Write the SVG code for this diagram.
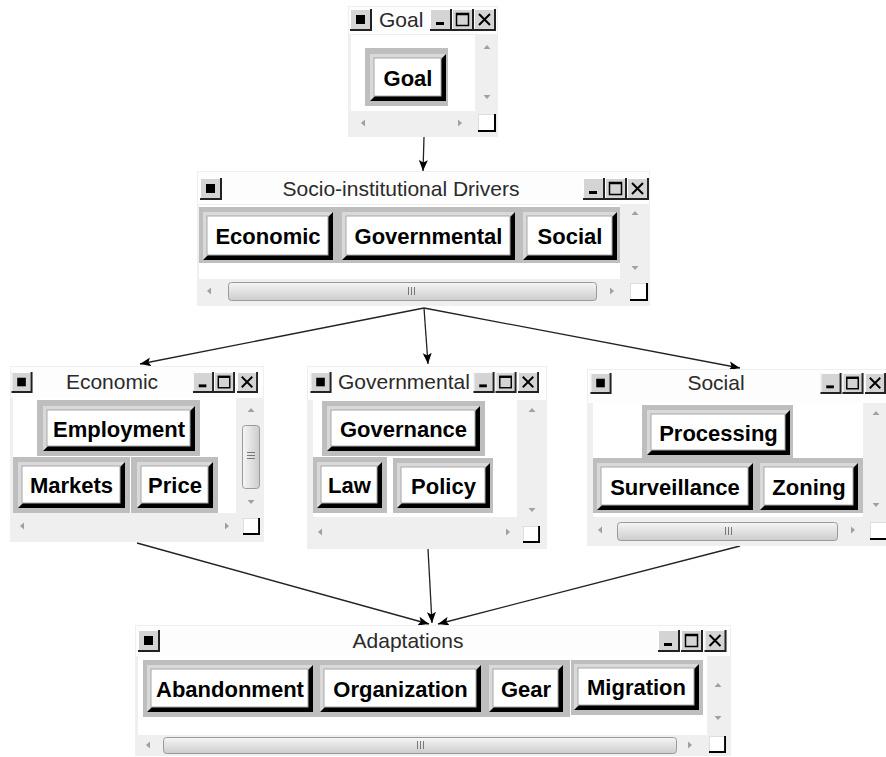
<svg xmlns="http://www.w3.org/2000/svg" xmlns:xlink="http://www.w3.org/1999/xlink" width="886" height="757" viewBox="0 0 886 757">
<style>
.win{fill:#efefef}
.tbar{fill:#fdfdfd}
.view{fill:#fff}
.cell{fill:#bebebe}
.bl{fill:#d9d9d9}
.bd{fill:#000}
.bf{fill:#fff;stroke:#a8a8a8;stroke-width:1}
.bt{font-family:"Liberation Sans",Arial,sans-serif;font-weight:bold;font-size:22px;text-anchor:middle;fill:#000}
.tt{font-family:"Liberation Sans",Arial,sans-serif;font-size:21px;fill:#2a2a2a}
.mid{text-anchor:middle}
.thumbh{fill:url(#tgh);stroke:#9a9a9a}
.thumbv{fill:url(#tgv);stroke:#9a9a9a}
.grip{stroke:#777;stroke-width:1}
.edge{stroke:#222;fill:none;stroke-width:1.3}
</style>
<defs>
<linearGradient id="tgh" x1="0" y1="0" x2="0" y2="1"><stop offset="0" stop-color="#f6f6f6"/><stop offset="1" stop-color="#cccccc"/></linearGradient>
<linearGradient id="tgv" x1="0" y1="0" x2="1" y2="0"><stop offset="0" stop-color="#f6f6f6"/><stop offset="1" stop-color="#cccccc"/></linearGradient>
<symbol id="bsq" viewBox="0 0 22 22"><rect x="0" y="0" width="22" height="22" fill="#d4d4d4"/><path d="M0.5,21 V0.5 H21" stroke="#fff" fill="none"/><path d="M21,0 V21 H0" stroke="#222" stroke-width="2" fill="none"/><rect x="6" y="6" width="9" height="9" fill="#000"/></symbol>
<symbol id="bmin" viewBox="0 0 22 22"><rect x="0" y="0" width="22" height="22" fill="#d4d4d4"/><path d="M0.5,21 V0.5 H21" stroke="#fff" fill="none"/><path d="M21,0 V21 H0" stroke="#222" stroke-width="2" fill="none"/><rect x="6" y="13" width="8" height="3" fill="#000"/></symbol>
<symbol id="bmax" viewBox="0 0 22 22"><rect x="0" y="0" width="22" height="22" fill="#d4d4d4"/><path d="M0.5,21 V0.5 H21" stroke="#fff" fill="none"/><path d="M21,0 V21 H0" stroke="#222" stroke-width="2" fill="none"/><rect x="4.5" y="4.5" width="12" height="12" fill="none" stroke="#000" stroke-width="1.5"/><line x1="4.5" y1="5.5" x2="16.5" y2="5.5" stroke="#000" stroke-width="1.5"/></symbol>
<symbol id="bclose" viewBox="0 0 22 22"><rect x="0" y="0" width="22" height="22" fill="#d4d4d4"/><path d="M0.5,21 V0.5 H21" stroke="#fff" fill="none"/><path d="M21,0 V21 H0" stroke="#222" stroke-width="2" fill="none"/><path d="M5,5 L16,16 M16,5 L5,16" stroke="#000" stroke-width="2"/></symbol>
<symbol id="corner" viewBox="0 0 18 18"><rect x="0.5" y="0.5" width="17" height="17" fill="#fff" stroke="#ddd"/><path d="M0,17 H17 V0" stroke="#000" stroke-width="2" fill="none"/></symbol>
<symbol id="aup" viewBox="0 0 10 10"><polygon points="1.5,7 8.5,7 5,3" fill="#a0a0a0"/></symbol>
<symbol id="adn" viewBox="0 0 10 10"><polygon points="1.5,3 8.5,3 5,7" fill="#a0a0a0"/></symbol>
<symbol id="alt" viewBox="0 0 10 10"><polygon points="7,1.5 7,8.5 3,5" fill="#a0a0a0"/></symbol>
<symbol id="art" viewBox="0 0 10 10"><polygon points="3,1.5 3,8.5 7,5" fill="#a0a0a0"/></symbol>
<marker id="ah" markerUnits="userSpaceOnUse" markerWidth="12" markerHeight="10" refX="11" refY="5" orient="auto"><path d="M11,5 L0,0.5 L2.5,5 L0,9.5 Z" fill="#000"/></marker>
</defs>

<rect x="0" y="0" width="886" height="757" fill="#fff"/>

<g id="connectors">
<line class="edge" x1="424" y1="137" x2="423" y2="171" marker-end="url(#ah)"/>
<line class="edge" x1="424" y1="308" x2="140" y2="364" marker-end="url(#ah)"/>
<line class="edge" x1="424" y1="308" x2="428" y2="364" marker-end="url(#ah)"/>
<line class="edge" x1="424" y1="308" x2="740" y2="368" marker-end="url(#ah)"/>
<line class="edge" x1="137" y1="543" x2="429" y2="624" marker-end="url(#ah)"/>
<line class="edge" x1="428" y1="549" x2="432" y2="623" marker-end="url(#ah)"/>
<line class="edge" x1="740" y1="546" x2="438" y2="624" marker-end="url(#ah)"/>
</g>

<g id="n-goal">
<rect class="win" x="348" y="6" width="150" height="131"/>
<rect class="tbar" x="349" y="7" width="148" height="27"/>
<use href="#bsq" x="350" y="9" width="22" height="22"/>
<text class="tt" x="379" y="27">Goal</text>
<use href="#bmin" x="430" y="9" width="22" height="22"/>
<use href="#bmax" x="452" y="9" width="22" height="22"/>
<use href="#bclose" x="474" y="9" width="22" height="22"/>
<rect class="view" x="351" y="35" width="124" height="76"/>
<use href="#aup" x="482" y="42" width="10" height="10"/>
<use href="#adn" x="482" y="92" width="10" height="10"/>
<use href="#alt" x="358" y="118" width="10" height="10"/>
<use href="#art" x="455" y="118" width="10" height="10"/>
<use href="#corner" x="478" y="114" width="18" height="18"/>
<rect class="cell" x="365" y="48" width="83" height="58"/>
<rect class="bl" x="370" y="54" width="76" height="47"/>
<path class="bd" d="M446,54 v47 h-76 l5,-5 h66 v-37 z"/>
<rect class="bf" x="374" y="58" width="67" height="38"/>
<text class="bt" x="408" y="86">Goal</text>
</g>

<g id="n-socio">
<rect class="win" x="197" y="171" width="453" height="135"/>
<rect class="tbar" x="198" y="172" width="451" height="32"/>
<use href="#bsq" x="200" y="178" width="22" height="22"/>
<text class="tt mid" x="401" y="196">Socio-institutional Drivers</text>
<use href="#bmin" x="583" y="178" width="22" height="22"/>
<use href="#bmax" x="605" y="178" width="22" height="22"/>
<use href="#bclose" x="627" y="178" width="22" height="22"/>
<rect class="view" x="199" y="205" width="421" height="74"/>
<rect class="cell" x="199" y="207" width="421" height="56"/>
<rect class="bl" x="203" y="212" width="130" height="48"/>
<path class="bd" d="M333,212 v48 h-130 l5,-5 h120 v-38 z"/>
<rect class="bf" x="207" y="216" width="121" height="39"/>
<text class="bt" x="268" y="244">Economic</text>
<rect class="bl" x="342" y="212" width="173" height="48"/>
<path class="bd" d="M515,212 v48 h-173 l5,-5 h163 v-38 z"/>
<rect class="bf" x="346" y="216" width="164" height="39"/>
<text class="bt" x="428.5" y="244">Governmental</text>
<rect class="bl" x="523" y="212" width="94" height="48"/>
<path class="bd" d="M617,212 v48 h-94 l5,-5 h84 v-38 z"/>
<rect class="bf" x="527" y="216" width="85" height="39"/>
<text class="bt" x="570" y="244">Social</text>
<use href="#aup" x="630" y="208" width="10" height="10"/>
<use href="#adn" x="630" y="263" width="10" height="10"/>
<use href="#alt" x="204" y="286" width="10" height="10"/>
<rect class="thumbh" x="228.5" y="282.5" width="368" height="18" rx="3"/>
<path class="grip" d="M408.5,287 v8 M411.5,287 v8 M414.5,287 v8"/>
<use href="#art" x="607" y="286" width="10" height="10"/>
<use href="#corner" x="630" y="283" width="18" height="18"/>
</g>

<g id="n-economic">
<rect class="win" x="10" y="366" width="254" height="176"/>
<rect class="tbar" x="11" y="367" width="252" height="31"/>
<use href="#bsq" x="11" y="372" width="22" height="21"/>
<text class="tt mid" x="112" y="389">Economic</text>
<use href="#bmin" x="193" y="372" width="21" height="21"/>
<use href="#bmax" x="214" y="372" width="21" height="21"/>
<use href="#bclose" x="236" y="372" width="23" height="21"/>
<rect class="view" x="13" y="398" width="223" height="115"/>
<rect class="cell" x="37" y="400" width="163" height="56"/>
<rect class="cell" x="13" y="457" width="117" height="56"/>
<rect class="cell" x="131" y="457" width="87" height="56"/>
<rect class="bl" x="43" y="406" width="152" height="45"/>
<path class="bd" d="M195,406 v45 h-152 l5,-5 h142 v-35 z"/>
<rect class="bf" x="47" y="410" width="143" height="36"/>
<text class="bt" x="119" y="436.5">Employment</text>
<rect class="bl" x="18" y="462" width="107" height="46"/>
<path class="bd" d="M125,462 v46 h-107 l5,-5 h97 v-36 z"/>
<rect class="bf" x="22" y="466" width="98" height="37"/>
<text class="bt" x="71.5" y="493">Markets</text>
<rect class="bl" x="137" y="462" width="76" height="46"/>
<path class="bd" d="M213,462 v46 h-76 l5,-5 h66 v-36 z"/>
<rect class="bf" x="141" y="466" width="67" height="37"/>
<text class="bt" x="175" y="493">Price</text>
<use href="#aup" x="246" y="405" width="10" height="10"/>
<rect class="thumbv" x="242.5" y="425.5" width="17" height="63" rx="3"/>
<path class="grip" d="M247,452.5 h8 M247,455.5 h8 M247,458.5 h8"/>
<use href="#adn" x="246" y="497" width="10" height="10"/>
<use href="#alt" x="17" y="521" width="10" height="10"/>
<use href="#art" x="222" y="521" width="10" height="10"/>
<use href="#corner" x="243" y="518" width="17" height="17"/>
</g>

<g id="n-governmental">
<rect class="win" x="307" y="366" width="240" height="183"/>
<rect class="tbar" x="308" y="367" width="238" height="33"/>
<use href="#bsq" x="310" y="372" width="22" height="21"/>
<text class="tt" x="338" y="389">Governmental</text>
<use href="#bmin" x="473" y="372" width="22" height="21"/>
<use href="#bmax" x="495" y="372" width="22" height="21"/>
<use href="#bclose" x="517" y="372" width="23" height="21"/>
<rect class="view" x="313" y="400" width="204" height="117"/>
<rect class="cell" x="322" y="401" width="163" height="55"/>
<rect class="cell" x="313" y="457" width="74" height="56"/>
<rect class="cell" x="393" y="458" width="100" height="55"/>
<rect class="bl" x="327" y="406" width="153" height="45"/>
<path class="bd" d="M480,406 v45 h-153 l5,-5 h143 v-35 z"/>
<rect class="bf" x="331" y="410" width="144" height="36"/>
<text class="bt" x="403.5" y="436.5">Governance</text>
<rect class="bl" x="317" y="462" width="65" height="46"/>
<path class="bd" d="M382,462 v46 h-65 l5,-5 h55 v-36 z"/>
<rect class="bf" x="321" y="466" width="56" height="37"/>
<text class="bt" x="349.5" y="493">Law</text>
<rect class="bl" x="397" y="463" width="93" height="45"/>
<path class="bd" d="M490,463 v45 h-93 l5,-5 h83 v-35 z"/>
<rect class="bf" x="401" y="467" width="84" height="36"/>
<text class="bt" x="443.5" y="493.5">Policy</text>
<use href="#aup" x="527" y="405" width="10" height="10"/>
<use href="#adn" x="527" y="505" width="10" height="10"/>
<use href="#alt" x="315" y="527" width="10" height="10"/>
<use href="#art" x="503" y="527" width="10" height="10"/>
<use href="#corner" x="523" y="526" width="17" height="17"/>
</g>

<g id="n-social">
<rect class="win" x="587" y="369" width="299" height="177"/>
<rect class="tbar" x="588" y="370" width="298" height="33"/>
<use href="#bsq" x="590" y="373" width="22" height="21"/>
<text class="tt mid" x="716" y="390">Social</text>
<use href="#bmin" x="820" y="373" width="22" height="21"/>
<use href="#bmax" x="842" y="373" width="22" height="21"/>
<use href="#bclose" x="864" y="373" width="23" height="21"/>
<rect class="view" x="593" y="403" width="270" height="114"/>
<rect class="cell" x="642" y="405" width="151" height="53"/>
<rect class="cell" x="593" y="458" width="270" height="55"/>
<rect class="bl" x="647" y="410" width="143" height="45"/>
<path class="bd" d="M790,410 v45 h-143 l5,-5 h133 v-35 z"/>
<rect class="bf" x="651" y="414" width="134" height="36"/>
<text class="bt" x="718.5" y="440.5">Processing</text>
<rect class="bl" x="597" y="463" width="156" height="47"/>
<path class="bd" d="M753,463 v47 h-156 l5,-5 h146 v-37 z"/>
<rect class="bf" x="601" y="467" width="147" height="38"/>
<text class="bt" x="675" y="494.5">Surveillance</text>
<rect class="bl" x="760" y="463" width="98" height="47"/>
<path class="bd" d="M858,463 v47 h-98 l5,-5 h88 v-37 z"/>
<rect class="bf" x="764" y="467" width="89" height="38"/>
<text class="bt" x="809" y="494.5">Zoning</text>
<use href="#aup" x="871" y="408" width="10" height="10"/>
<use href="#adn" x="871" y="500" width="10" height="10"/>
<use href="#alt" x="595" y="525" width="10" height="10"/>
<rect class="thumbh" x="617.5" y="522.5" width="220" height="18" rx="3"/>
<path class="grip" d="M725.5,527 v8 M728.5,527 v8 M731.5,527 v8"/>
<use href="#art" x="848" y="525" width="10" height="10"/>
<use href="#corner" x="870" y="522" width="18" height="18"/>
</g>

<g id="n-adaptations">
<rect class="win" x="135" y="625" width="596" height="131"/>
<rect class="tbar" x="136" y="626" width="594" height="30"/>
<use href="#bsq" x="138" y="630" width="22" height="22"/>
<text class="tt mid" x="408" y="648">Adaptations</text>
<use href="#bmin" x="658" y="630" width="22" height="22"/>
<use href="#bmax" x="681" y="630" width="22" height="22"/>
<use href="#bclose" x="704" y="630" width="23" height="22"/>
<rect class="view" x="138" y="656" width="569" height="79"/>
<rect class="cell" x="143" y="660" width="427" height="57"/>
<rect class="cell" x="571" y="660" width="132" height="55"/>
<rect class="bl" x="147" y="665" width="166" height="47"/>
<path class="bd" d="M313,665 v47 h-166 l5,-5 h156 v-37 z"/>
<rect class="bf" x="151" y="669" width="157" height="38"/>
<text class="bt" x="230" y="696.5">Abandonment</text>
<rect class="bl" x="320" y="665" width="161" height="47"/>
<path class="bd" d="M481,665 v47 h-161 l5,-5 h151 v-37 z"/>
<rect class="bf" x="324" y="669" width="152" height="38"/>
<text class="bt" x="400.5" y="696.5">Organization</text>
<rect class="bl" x="489" y="665" width="74" height="47"/>
<path class="bd" d="M563,665 v47 h-74 l5,-5 h64 v-37 z"/>
<rect class="bf" x="493" y="669" width="65" height="38"/>
<text class="bt" x="526" y="696.5">Gear</text>
<rect class="bl" x="574" y="664" width="125" height="46"/>
<path class="bd" d="M699,664 v46 h-125 l5,-5 h115 v-36 z"/>
<rect class="bf" x="578" y="668" width="116" height="37"/>
<text class="bt" x="636.5" y="695">Migration</text>
<use href="#aup" x="713" y="680" width="10" height="10"/>
<use href="#adn" x="713" y="713" width="10" height="10"/>
<use href="#alt" x="143" y="740" width="10" height="10"/>
<rect class="thumbh" x="163.5" y="737.5" width="513" height="16" rx="3"/>
<path class="grip" d="M417.5,741 v8 M420.5,741 v8 M423.5,741 v8"/>
<use href="#art" x="685" y="740" width="10" height="10"/>
<use href="#corner" x="709" y="736" width="17" height="17"/>
</g>
</svg>
